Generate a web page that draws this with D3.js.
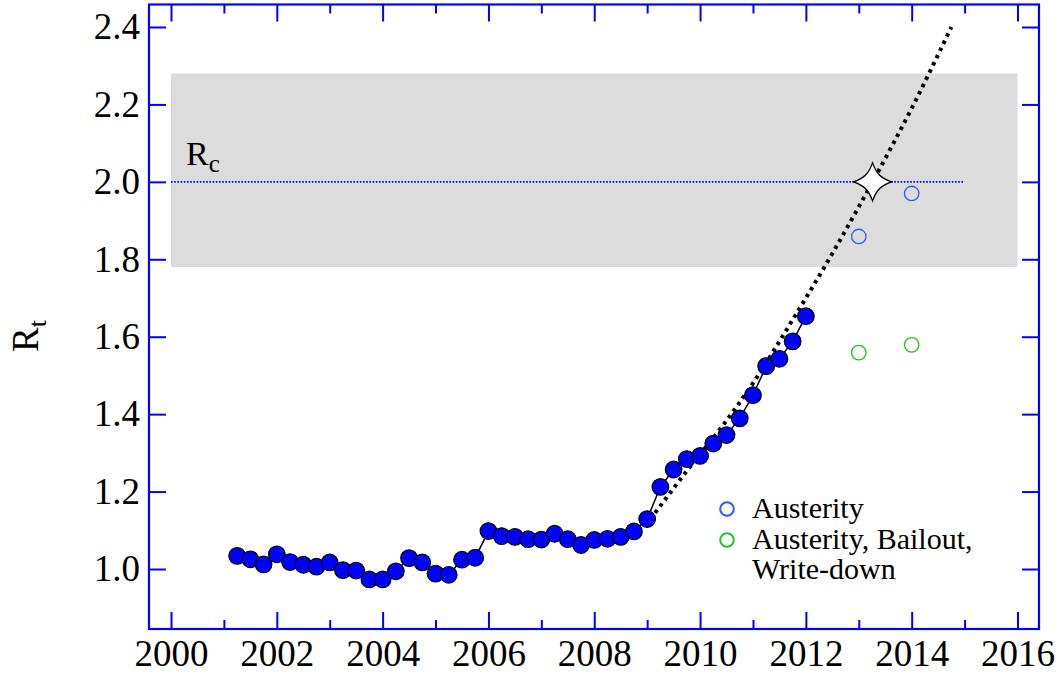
<!DOCTYPE html>
<html>
<head>
<meta charset="utf-8">
<script src="https://cdn.jsdelivr.net/npm/d3@7"></script>
<style>
  html, body { margin: 0; padding: 0; background: #fff; }
  svg { display: block; }
  text { font-family: "Liberation Serif", "Times New Roman", serif; fill: #000; }
</style>
</head>
<body>
<svg id="chart" width="1060" height="677"></svg>
<script>
// ---------------- DATA ----------------
const quarters = [2001.25, 2001.5, 2001.75, 2002.0, 2002.25, 2002.5, 2002.75, 2003.0,
  2003.25, 2003.5, 2003.75, 2004.0, 2004.25, 2004.5, 2004.75, 2005.0,
  2005.25, 2005.5, 2005.75, 2006.0, 2006.25, 2006.5, 2006.75, 2007.0,
  2007.25, 2007.5, 2007.75, 2008.0, 2008.25, 2008.5, 2008.75, 2009.0,
  2009.25, 2009.5, 2009.75, 2010.0, 2010.25, 2010.5, 2010.75, 2011.0,
  2011.25, 2011.5, 2011.75, 2012.0];
const rtValues = [1.034, 1.025, 1.012, 1.038, 1.018, 1.011, 1.006, 1.017,
  0.997, 0.996, 0.973, 0.973, 0.994, 1.028, 1.017, 0.988,
  0.985, 1.024, 1.029, 1.098, 1.085, 1.083, 1.077, 1.076,
  1.091, 1.077, 1.062, 1.075, 1.078, 1.083, 1.097, 1.129,
  1.212, 1.257, 1.284, 1.292, 1.324, 1.346, 1.389, 1.449,
  1.524, 1.543, 1.588, 1.653];

// dotted fit curve
const fitYears  = [2009.15, 2009.8, 2010.4, 2011.0, 2011.8, 2012.5, 2013.26, 2014.0, 2014.75];
const fitValues = [1.145, 1.262, 1.365, 1.48, 1.655, 1.815, 2.0, 2.19, 2.40];

// scenario projections
const scenarioYears = [2013, 2014];
const austerityValues = [1.859, 1.970];
const bailoutValues = [1.559, 1.579];

// critical value
const rcValue = 2.0;
const rcYears = [2000, 2015];
const bandRange = [1.78, 2.28];
const bandYears = [2000, 2016];
const starPoint = [2013.26, 2.0];

// ticks
const xMajorTicks = [2000, 2002, 2004, 2006, 2008, 2010, 2012, 2014, 2016];
const xMinorTicks = [2001, 2003, 2005, 2007, 2009, 2011, 2013, 2015];
const yTicks = [1.0, 1.2, 1.4, 1.6, 1.8, 2.0, 2.2, 2.4];

const legendLabels = [["Austerity"], ["Austerity, Bailout,", "Write-down"]];
const legendColors = ["#2a5cff", "#22c422"];

// ---------------- LAYOUT ----------------
const frame = { left: 149, right: 1039, top: 4.5, bottom: 629 };
const axisBlue = "#0000ff";

const svg = d3.select("#chart");
const x = d3.scaleLinear().domain([2000, 2016]).range([171, 1017.5]);
const y = d3.scaleLinear().domain([1.0, 2.4]).range([569, 27]);

// gray band
svg.append("rect")
  .attr("x", x(bandYears[0])).attr("width", x(bandYears[1]) - x(bandYears[0]))
  .attr("y", y(bandRange[1])).attr("height", y(bandRange[0]) - y(bandRange[1]))
  .attr("fill", "#dcdcdc");

// Rc dotted line
svg.append("line")
  .attr("x1", x(rcYears[0])).attr("x2", x(rcYears[1]))
  .attr("y1", y(rcValue)).attr("y2", y(rcValue))
  .attr("stroke", "#0000ff").attr("stroke-width", 1.6)
  .attr("stroke-dasharray", "1.6,1.6");

// Rc label
const rc = svg.append("text").attr("x", 186).attr("y", 165).style("font-size", "34px");
rc.append("tspan").text("R");
rc.append("tspan").attr("dy", 7).style("font-size", "25px").text("c");

// axes
function styleAxis(g) {
  g.select(".domain").remove();
  g.selectAll(".tick line").attr("stroke", axisBlue).attr("stroke-width", 2);
  g.selectAll(".tick text").style("font-size", "37px").attr("fill", "#000")
    .style("font-family", '"Liberation Serif", "Times New Roman", serif');
}
const fmt = d3.format(".1f");

svg.append("g").attr("transform", `translate(${frame.left},0)`)
  .call(d3.axisLeft(y).tickValues(yTicks).tickSize(-17).tickPadding(9).tickFormat(fmt))
  .call(styleAxis);
svg.append("g").attr("transform", `translate(${frame.right},0)`)
  .call(d3.axisRight(y).tickValues(yTicks).tickSize(-17).tickFormat(""))
  .call(styleAxis);
svg.append("g").attr("transform", `translate(0,${frame.bottom})`)
  .call(d3.axisBottom(x).tickValues(xMajorTicks).tickSize(-17).tickPadding(11).tickFormat(d3.format("d")))
  .call(styleAxis);
svg.append("g").attr("transform", `translate(0,${frame.bottom})`)
  .call(d3.axisBottom(x).tickValues(xMinorTicks).tickSize(-9).tickFormat(""))
  .call(styleAxis);
svg.append("g").attr("transform", `translate(0,${frame.top})`)
  .call(d3.axisTop(x).tickValues(xMajorTicks).tickSize(-17).tickFormat(""))
  .call(styleAxis);
svg.append("g").attr("transform", `translate(0,${frame.top})`)
  .call(d3.axisTop(x).tickValues(xMinorTicks).tickSize(-9).tickFormat(""))
  .call(styleAxis);

// frame
svg.append("rect")
  .attr("x", frame.left).attr("y", frame.top)
  .attr("width", frame.right - frame.left).attr("height", frame.bottom - frame.top)
  .attr("fill", "none").attr("stroke", axisBlue).attr("stroke-width", 2.2);

// y label
const yl = svg.append("text")
  .attr("transform", "translate(38,352) rotate(-90)")
  .style("font-size", "37px");
yl.append("tspan").text("R");
yl.append("tspan").attr("dy", 8).style("font-size", "26px").text("t");

// data line
const series = quarters.map((q, i) => [q, rtValues[i]]);
svg.append("path").datum(series)
  .attr("d", d3.line().x(d => x(d[0])).y(d => y(d[1])))
  .attr("fill", "none").attr("stroke", "#000").attr("stroke-width", 1.5);

// fit dotted curve
const fit = fitYears.map((f, i) => [f, fitValues[i]]);
svg.append("path").datum(fit)
  .attr("d", d3.line().curve(d3.curveMonotoneX).x(d => x(d[0])).y(d => y(d[1])))
  .attr("fill", "none").attr("stroke", "#000").attr("stroke-width", 4)
  .attr("stroke-dasharray", "3.5,4.5");

// data points
svg.append("g").selectAll("circle").data(series).join("circle")
  .attr("cx", d => x(d[0])).attr("cy", d => y(d[1])).attr("r", 8.3)
  .attr("fill", "#0000ff").attr("stroke", "#000").attr("stroke-width", 1.2);

// four-pointed star
const R = 19, a = 4, b = 8;
const sx = x(starPoint[0]), sy = y(starPoint[1]);
const p = d3.path();
p.moveTo(sx, sy - R);
p.bezierCurveTo(sx + a, sy - b, sx + b, sy - a, sx + R, sy);
p.bezierCurveTo(sx + b, sy + a, sx + a, sy + b, sx, sy + R);
p.bezierCurveTo(sx - a, sy + b, sx - b, sy + a, sx - R, sy);
p.bezierCurveTo(sx - b, sy - a, sx - a, sy - b, sx, sy - R);
p.closePath();
svg.append("path").attr("d", p.toString())
  .attr("fill", "#fff").attr("stroke", "#000").attr("stroke-width", 1.3)
  .attr("stroke-linejoin", "miter");

// scenario open circles
svg.append("g").selectAll("circle").data(scenarioYears.map((s, i) => [s, austerityValues[i]])).join("circle")
  .attr("cx", d => x(d[0])).attr("cy", d => y(d[1])).attr("r", 7.2)
  .attr("fill", "none").attr("stroke", legendColors[0]).attr("stroke-width", 1.3);
svg.append("g").selectAll("circle").data(scenarioYears.map((s, i) => [s, bailoutValues[i]])).join("circle")
  .attr("cx", d => x(d[0])).attr("cy", d => y(d[1])).attr("r", 7.2)
  .attr("fill", "none").attr("stroke", legendColors[1]).attr("stroke-width", 1.3);

// legend
const legendY = [509, 540];
legendLabels.forEach((lines, i) => {
  svg.append("circle").attr("cx", 727).attr("cy", legendY[i]).attr("r", 6.8)
    .attr("fill", "none").attr("stroke", legendColors[i]).attr("stroke-width", 2);
  lines.forEach((t, j) => {
    svg.append("text").attr("x", 752).attr("y", legendY[i] + 9 + j * 30)
      .style("font-size", "30px").text(t);
  });
});
</script>
</body>
</html>
